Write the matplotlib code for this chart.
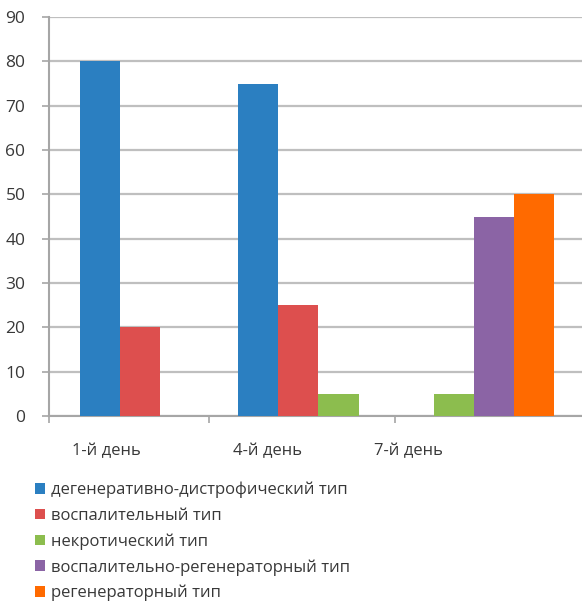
import matplotlib
matplotlib.use("Agg")
import matplotlib.pyplot as plt
from matplotlib.patches import Patch

categories = ["1-й день", "4-й день", "7-й день"]
series_names = ["дегенеративно-дистрофический тип", "воспалительный тип",
                "некротический тип", "воспалительно-регенераторный тип",
                "регенераторный тип"]
degenerative = [80, 75, 0]
inflammatory = [20, 25, 0]
necrotic = [0, 5, 5]
inflam_regen = [0, 0, 45]
regenerative = [0, 0, 50]
y_ticks = [0, 10, 20, 30, 40, 50, 60, 70, 80, 90]

series = [degenerative, inflammatory, necrotic, inflam_regen, regenerative]
colors = ["#2B7FC1", "#DD4F4E", "#8CBD4E", "#8B64A5", "#FF6A00"]

# layout (axis units)
group_x = [0.395, 1.389, 2.478]
label_x = [0.317, 1.219, 1.999]
boundary_x = [0.0, 0.891, 1.926]
bw = 0.223

plt.rcParams['font.family'] = ['Open Sans', 'DejaVu Sans']
fig = plt.figure(figsize=(5.82, 6.04), dpi=100)
ax = fig.add_axes([49/582, (604-416)/604, 1 - 49/582 + 0.01, (416-17)/604])

for g in range(len(categories)):
    present = [i for i, s in enumerate(series) if s[g] != 0]
    n = len(present)
    for k, i in enumerate(present):
        x = group_x[g] + (k - (n - 1) / 2) * bw
        ax.bar(x, series[i][g], width=bw, color=colors[i], zorder=3, linewidth=0)

txt_color = "#383838"
ax.set_ylim(0, 90)
ax.set_xlim(0, 3)
ax.set_yticks(y_ticks)
ax.set_yticklabels([str(v) for v in y_ticks], fontsize=12.5, color=txt_color)
ax.yaxis.grid(True, color="#BFBFBF", linewidth=1.6, zorder=0)
ax.tick_params(axis='y', length=5, width=1.2, color="#A6A6A6", pad=12)

ax.set_xticks(boundary_x)
ax.set_xticklabels([])
ax.tick_params(axis='x', length=5, width=1.2, color="#A6A6A6", direction='out')
for lx, c in zip(label_x, categories):
    ax.text(lx, -7.9, c, ha='center', va='center', fontsize=12, color=txt_color)

for s in ['top', 'right']:
    ax.spines[s].set_visible(False)
for s in ['left', 'bottom']:
    ax.spines[s].set_color("#A6A6A6")
    ax.spines[s].set_linewidth(1.5)

handles = [Patch(facecolor=c, edgecolor='none') for c in colors]
fig.legend(handles, series_names, loc='upper left', bbox_to_anchor=(35/582, 1 - 482/604),
           frameon=False, fontsize=12, handlelength=0.6, handleheight=0.6,
           handletextpad=0.35, labelspacing=0.56, borderaxespad=0, borderpad=0,
           labelcolor=txt_color)

fig.savefig("out.png", dpi=100)
